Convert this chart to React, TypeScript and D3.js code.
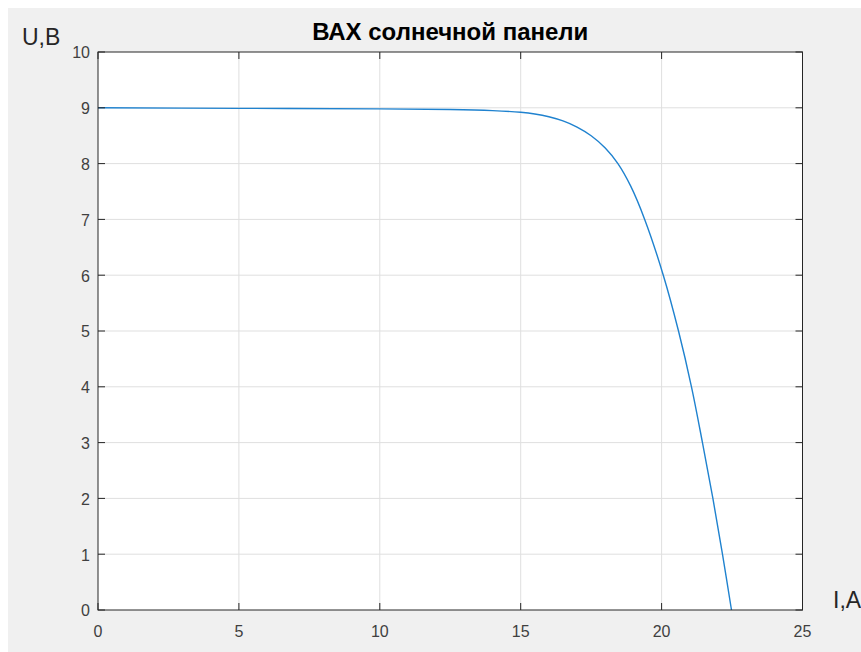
import React from "react";
import * as d3 from "d3";

// I-V curve of the solar panel
const current = [0, 5, 10, 12.5, 14, 15, 15.5, 16, 16.5, 17, 17.5, 18, 18.45, 18.9, 19.4, 20.06, 20.6, 21.06, 21.45, 21.82, 22.16, 22.48];
const voltage = [9.0, 8.99, 8.98, 8.97, 8.95, 8.92, 8.89, 8.84, 8.765, 8.655, 8.5, 8.28, 8.0, 7.6, 7.0, 6.0, 5.0, 4.0, 3.0, 2.0, 1.0, 0];
const xTicks = [0, 5, 10, 15, 20, 25];
const yTicks = [0, 1, 2, 3, 4, 5, 6, 7, 8, 9, 10];

const title = "ВАХ солнечной панели";
const yLabel = "U,B";
const xLabel = "I,A";

const W = 861;
const H = 652;
const margin = { top: 52, right: 58.5, bottom: 42, left: 98 };
const font = "'Liberation Sans', Arial, Helvetica, sans-serif";

export default function App() {
  const innerW = W - margin.left - margin.right;
  const innerH = H - margin.top - margin.bottom;

  const x = d3.scaleLinear().domain([0, 25]).range([0, innerW]);
  const y = d3.scaleLinear().domain([0, 10]).range([innerH, 0]);

  const points = current.map((c, i) => [c, voltage[i]] as [number, number]);
  const line = d3
    .line<[number, number]>()
    .x((d) => x(d[0]))
    .y((d) => y(d[1]))
    .curve(d3.curveCatmullRom.alpha(0.5));

  const tickLen = 7;
  const axisColor = "#262626";

  return (
    <svg
      width={W}
      height={H}
      style={{ position: "absolute", top: 0, left: 0, display: "block" }}
      fontFamily={font}
    >
      <rect x={0} y={0} width={W} height={H} fill="#ffffff" />
      <rect x={8} y={8} width={W - 8} height={H - 8} fill="#f0f0f0" />

      <text x={margin.left + innerW / 2} y={40} textAnchor="middle" fontSize={24} fontWeight="bold" fill="#000">
        {title}
      </text>
      <text x={22} y={45} fontSize={23} fill="#262626">
        {yLabel}
      </text>
      <text x={833} y={608} fontSize={23} fill="#262626">
        {xLabel}
      </text>

      <g transform={`translate(${margin.left},${margin.top})`}>
        <rect x={0} y={0} width={innerW} height={innerH} fill="#ffffff" />

        {/* grid */}
        {xTicks.slice(1, -1).map((t) => (
          <line key={`gx${t}`} x1={x(t)} x2={x(t)} y1={0} y2={innerH} stroke="#dfdfdf" strokeWidth={1} />
        ))}
        {yTicks.slice(1, -1).map((t) => (
          <line key={`gy${t}`} x1={0} x2={innerW} y1={y(t)} y2={y(t)} stroke="#dfdfdf" strokeWidth={1} />
        ))}

        <path d={line(points) ?? ""} fill="none" stroke="#1f82cf" strokeWidth={1.4} />

        {/* inward ticks on all sides */}
        {xTicks.map((t) => (
          <g key={`tx${t}`}>
            <line x1={x(t)} x2={x(t)} y1={innerH} y2={innerH - tickLen} stroke={axisColor} />
            <line x1={x(t)} x2={x(t)} y1={0} y2={tickLen} stroke={axisColor} />
            <text x={x(t)} y={innerH + 27} textAnchor="middle" fontSize={16} fill="#404040">
              {t}
            </text>
          </g>
        ))}
        {yTicks.map((t) => (
          <g key={`ty${t}`}>
            <line x1={0} x2={tickLen} y1={y(t)} y2={y(t)} stroke={axisColor} />
            <line x1={innerW} x2={innerW - tickLen} y1={y(t)} y2={y(t)} stroke={axisColor} />
            <text x={-8} y={y(t)} dy="0.4em" textAnchor="end" fontSize={16} fill="#404040">
              {t}
            </text>
          </g>
        ))}

        <rect x={0} y={0} width={innerW} height={innerH} fill="none" stroke={axisColor} strokeWidth={1} />
      </g>
    </svg>
  );
}
